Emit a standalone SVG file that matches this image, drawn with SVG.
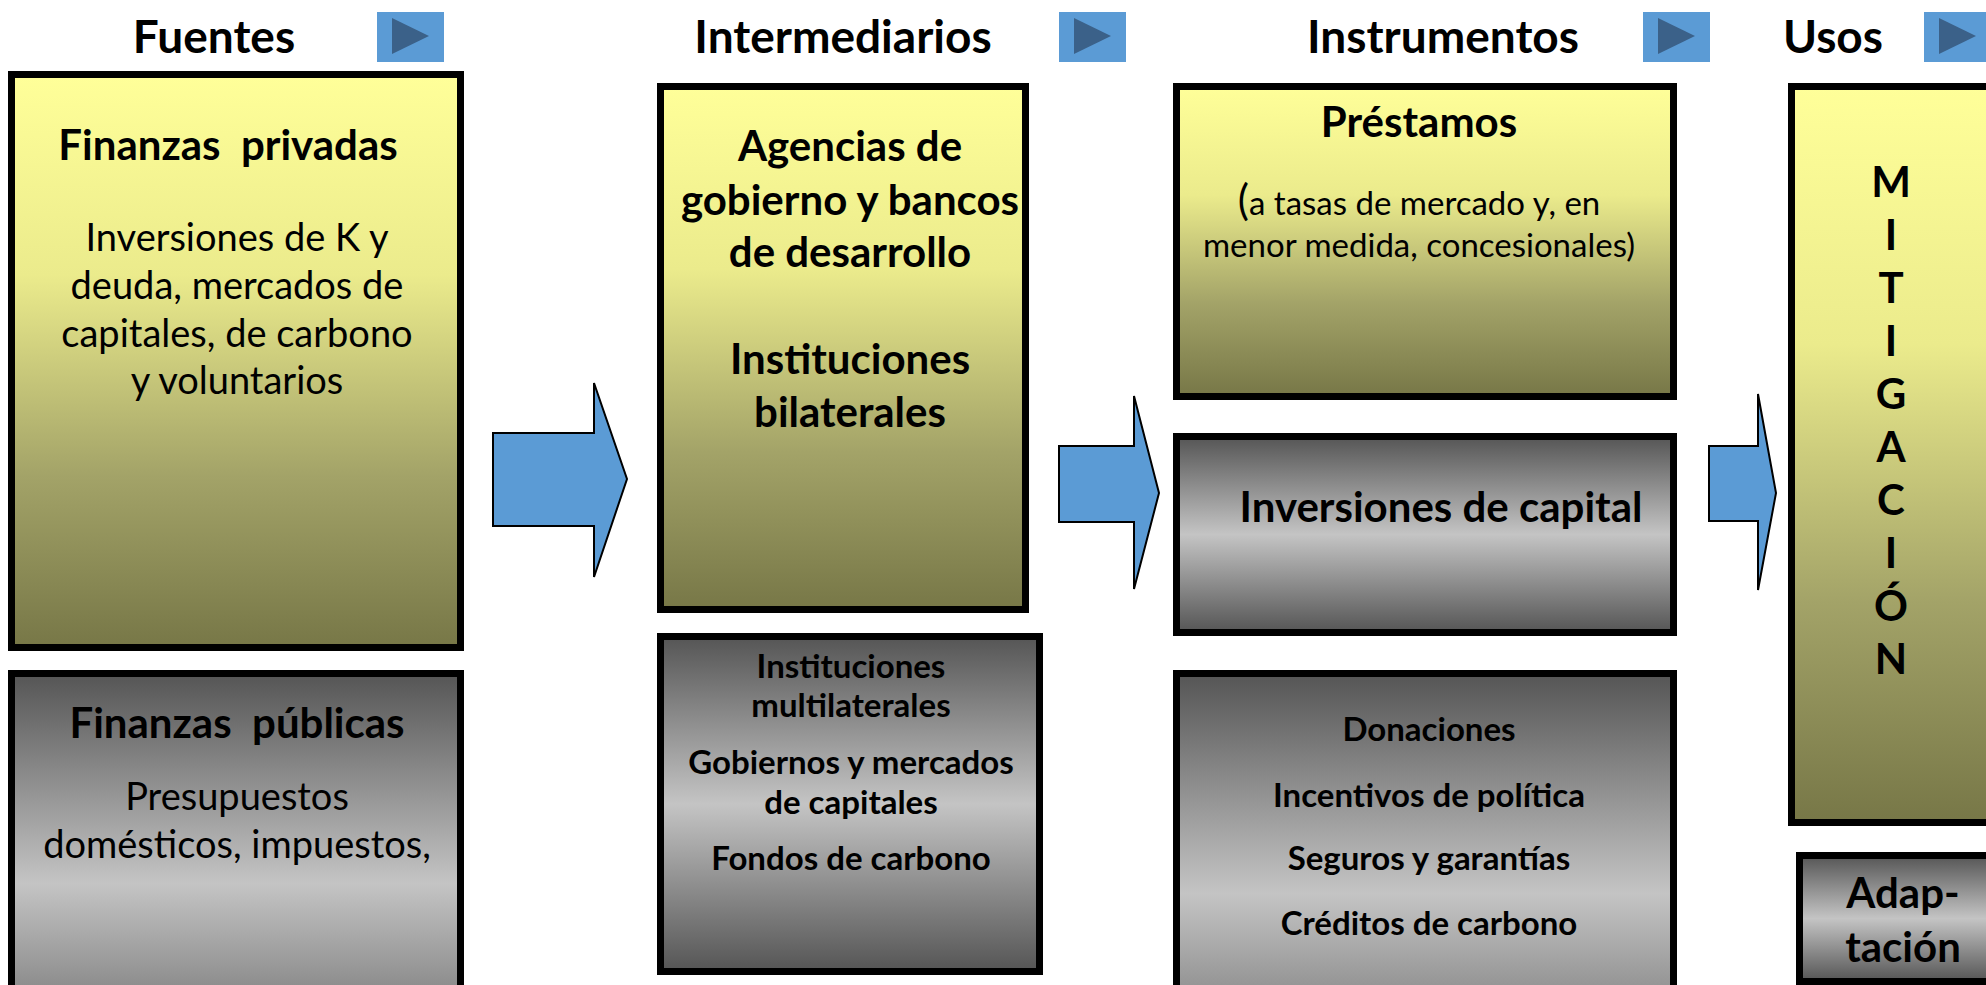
<svg xmlns="http://www.w3.org/2000/svg" width="1986" height="985" viewBox="0 0 1986 985">
<defs>
<linearGradient id="gy" x1="0" y1="0" x2="0" y2="1">
<stop offset="0" stop-color="#FFFF99"/>
<stop offset="0.35" stop-color="#EBEB8C"/>
<stop offset="0.7" stop-color="#A3A368"/>
<stop offset="1" stop-color="#777747"/>
</linearGradient>
<linearGradient id="gg" x1="0" y1="0" x2="0" y2="1">
<stop offset="0" stop-color="#555555"/>
<stop offset="0.5" stop-color="#C4C4C4"/>
<stop offset="1" stop-color="#555555"/>
</linearGradient>
<g id="icon">
<rect x="0" y="0" width="67" height="50" fill="#5B9BD5"/>
<polygon points="15,6 52,24 15,42" fill="#3B6189"/>
</g>
</defs>
<style>
text{font-family:Lato,"Liberation Sans",sans-serif;fill:#000;text-anchor:middle}
.h{font-size:46px;font-weight:bold}
.t{font-size:42px;font-weight:bold}
.r{font-size:38px}
.s{font-size:33px;font-weight:bold}
.box{stroke:#000;stroke-width:7}
.y{fill:url(#gy)}
.g{fill:url(#gg)}
.arr{fill:#5B9BD5;stroke:#000;stroke-width:2;stroke-linejoin:miter}
</style>
<rect width="1986" height="985" fill="#fff"/>
<g id="headers">
<text class="h" x="214" y="53">Fuentes</text>
<use href="#icon" x="377" y="12"/>
<text class="h" x="843" y="53">Intermediarios</text>
<use href="#icon" x="1059" y="12"/>
<text class="h" x="1443" y="53">Instrumentos</text>
<use href="#icon" x="1643" y="12"/>
<text class="h" x="1833" y="53">Usos</text>
<use href="#icon" x="1924" y="12"/>
</g>
<g id="privadas">
<rect class="box y" x="11.5" y="74.5" width="449" height="573"/>
<text class="t" x="228" y="160">Finanzas &#160;privadas</text>
<text class="r" x="237" y="251">Inversiones de K y</text>
<text class="r" x="237" y="299">deuda, mercados de</text>
<text class="r" x="237" y="347">capitales, de carbono</text>
<text class="r" x="237" y="394">y voluntarios</text>
</g>
<g id="publicas">
<rect class="box g" x="11.5" y="673.5" width="449" height="420"/>
<text class="t" x="237" y="738">Finanzas &#160;públicas</text>
<text class="r" x="237" y="810">Presupuestos</text>
<text class="r" x="237" y="858">domésticos, impuestos,</text>
</g>
<g id="agencias">
<rect class="box y" x="660.5" y="86.5" width="365" height="523"/>
<text class="t" x="850" y="161">Agencias de</text>
<text class="t" x="850" y="215">gobierno y bancos</text>
<text class="t" x="850" y="267">de desarrollo</text>
<text class="t" x="850" y="374">Instituciones</text>
<text class="t" x="850" y="427">bilaterales</text>
</g>
<g id="multilaterales">
<rect class="box g" x="660.5" y="636.5" width="379" height="335"/>
<text class="s" x="851" y="678">Instituciones</text>
<text class="s" x="851" y="717">multilaterales</text>
<text class="s" x="851" y="774">Gobiernos y mercados</text>
<text class="s" x="851" y="814">de capitales</text>
<text class="s" x="851" y="870">Fondos de carbono</text>
</g>
<g id="prestamos">
<rect class="box y" x="1176.5" y="86.5" width="497" height="310"/>
<text class="t" x="1419" y="137">Préstamos</text>
<text style="font-size:33px" x="1419" y="215"><tspan style="font-size:42px">(</tspan>a tasas de mercado y, en</text>
<text style="font-size:33px" x="1419" y="257">menor medida, concesionales)</text>
</g>
<g id="capital">
<rect class="box g" x="1176.5" y="436.5" width="497" height="196"/>
<text class="t" x="1441" y="522">Inversiones de capital</text>
</g>
<g id="donaciones">
<rect class="box g" x="1176.5" y="673.5" width="497" height="440"/>
<text class="s" x="1429" y="741">Donaciones</text>
<text class="s" x="1429" y="807">Incentivos de política</text>
<text class="s" x="1429" y="870">Seguros y garantías</text>
<text class="s" x="1429" y="935">Créditos de carbono</text>
</g>
<g id="mitigacion">
<rect class="box y" x="1791.5" y="86.5" width="260" height="736"/>
<text class="t" x="1891" y="197">M</text>
<text class="t" x="1891" y="250">I</text>
<text class="t" x="1891" y="303">T</text>
<text class="t" x="1891" y="356">I</text>
<text class="t" x="1891" y="409">G</text>
<text class="t" x="1891" y="462">A</text>
<text class="t" x="1891" y="515">C</text>
<text class="t" x="1891" y="568">I</text>
<text class="t" x="1891" y="621">Ó</text>
<text class="t" x="1891" y="674">N</text>
</g>
<g id="adaptacion">
<rect class="box g" x="1799.5" y="855.5" width="250" height="126"/>
<text class="t" x="1903" y="908">Adap-</text>
<text class="t" x="1903" y="962">tación</text>
</g>
<g id="connectors">
<polygon class="arr" points="493,433 594,433 594,383 627,479 594,577 594,526 493,526"/>
<polygon class="arr" points="1059,446 1134,446 1134,396 1159,493 1134,589 1134,522 1059,522"/>
<polygon class="arr" points="1709,446 1758,446 1758,394 1776,493 1758,590 1758,521 1709,521"/>
</g>
</svg>
